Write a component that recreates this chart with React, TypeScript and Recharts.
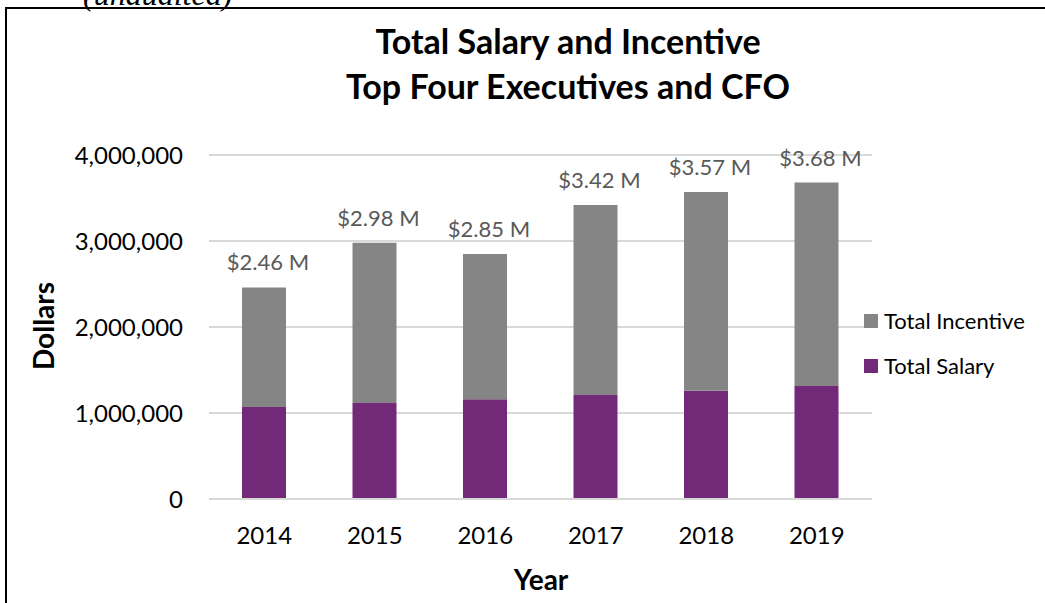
import { Bar, BarChart, CartesianGrid, LabelList, Legend, XAxis, YAxis } from "recharts";

const years = ["2014", "2015", "2016", "2017", "2018", "2019"];
const totalSalary = [1070000, 1115000, 1160000, 1210000, 1260000, 1315000];
const totalIncentive = [1390000, 1865000, 1690000, 2210000, 2310000, 2365000];
const yTicks = [0, 1000000, 2000000, 3000000, 4000000];

const SALARY_COLOR = "#722a78";
const INCENTIVE_COLOR = "#858585";
const FONT = "Lato, 'Open Sans', sans-serif";

const data = years.map((year, i) => ({
  year,
  salary: totalSalary[i],
  incentive: totalIncentive[i],
  total: totalSalary[i] + totalIncentive[i],
}));

const formatMillions = (v: any) => `$${(Number(v) / 1e6).toFixed(2)} M`;
const formatDollars = (v: number) => v.toLocaleString("en-US");

// total label above each stack, one line (default label wraps to bar width)
const TotalLabel = (props: any) => {
  const { x, y, width, value } = props;
  return (
    <text
      x={Number(x) + Number(width) / 2 + 4}
      y={Number(y) - 17}
      textAnchor="middle"
      fill="#595959"
      fontSize={22}
      fontFamily={FONT}
    >
      {formatMillions(value)}
    </text>
  );
};

const LegendList = ({ payload }: any) => (
  <div style={{ fontFamily: FONT, fontSize: 22, color: "#000" }}>
    {(payload || []).map((entry: any) => (
      <div key={entry.value} style={{ display: "flex", alignItems: "center", height: 45 }}>
        <span style={{ width: 14, height: 14, background: entry.color, marginRight: 6 }} />
        <span>{entry.value}</span>
      </div>
    ))}
  </div>
);

export default function App() {
  return (
    <div style={{ position: "absolute", left: 0, top: 0, width: 1045, height: 603, overflow: "hidden", background: "#fff" }}>
      <div
        style={{
          position: "absolute", left: 83, top: -21, fontFamily: "'Liberation Serif', serif",
          fontStyle: "italic", fontSize: 32, lineHeight: "31px", color: "#000",
        }}
      >
        (unaudited)
      </div>
      <div
        style={{
          position: "absolute", left: 5, top: 7, width: 1040, height: 596, boxSizing: "border-box",
          borderLeft: "2px solid #000", borderTop: "2px solid #000",
        }}
      />

      {/* Title */}
      <div
        style={{
          position: "absolute", left: 318, width: 500, top: 18, textAlign: "center",
          fontFamily: FONT, fontWeight: 700, fontSize: 34, lineHeight: "45px", color: "#000",
        }}
      >
        <div>Total Salary and Incentive</div>
        <div>Top Four Executives and CFO</div>
      </div>

      {/* Axis titles */}
      <div
        style={{
          position: "absolute", left: 43, top: 326, transform: "translate(-50%, -50%) rotate(-90deg)",
          fontFamily: FONT, fontWeight: 700, fontSize: 28, color: "#000", whiteSpace: "nowrap",
        }}
      >
        Dollars
      </div>
      <div
        style={{
          position: "absolute", left: 541, top: 579, transform: "translate(-50%, -50%)",
          fontFamily: FONT, fontWeight: 700, fontSize: 28, color: "#000",
        }}
      >
        Year
      </div>

      <div style={{ position: "absolute", left: 0, top: 0 }}>
        <BarChart
          width={1045}
          height={603}
          data={data}
          margin={{ top: 155, right: 173, bottom: 74, left: 0 }}
          barSize={44}
        >
          <CartesianGrid vertical={false} stroke="#d9d9d9" strokeWidth={2} />
          <XAxis
            dataKey="year"
            height={30}
            axisLine={{ stroke: "#d9d9d9", strokeWidth: 2 }}
            tickLine={false}
            tickSize={0}
            tickMargin={28}
            tick={{ fill: "#000", fontSize: 24, fontFamily: FONT }}
          />
          <YAxis
            width={209}
            domain={[0, 4000000]}
            ticks={yTicks}
            tickFormatter={formatDollars}
            axisLine={false}
            tickLine={false}
            tickSize={0}
            tickMargin={26}
            tick={{ fill: "#000", fontSize: 24, fontFamily: FONT }}
          />
          <Legend
            layout="vertical"
            align="center"
            verticalAlign="middle"
            content={<LegendList />}
            wrapperStyle={{ left: 864, top: 298, width: 181 }}
          />
          <Bar dataKey="salary" name="Total Salary" stackId="a" fill={SALARY_COLOR} isAnimationActive={false} />
          <Bar dataKey="incentive" name="Total Incentive" stackId="a" fill={INCENTIVE_COLOR} isAnimationActive={false}>
            <LabelList dataKey="total" content={<TotalLabel />} />
          </Bar>
        </BarChart>
      </div>
    </div>
  );
}
